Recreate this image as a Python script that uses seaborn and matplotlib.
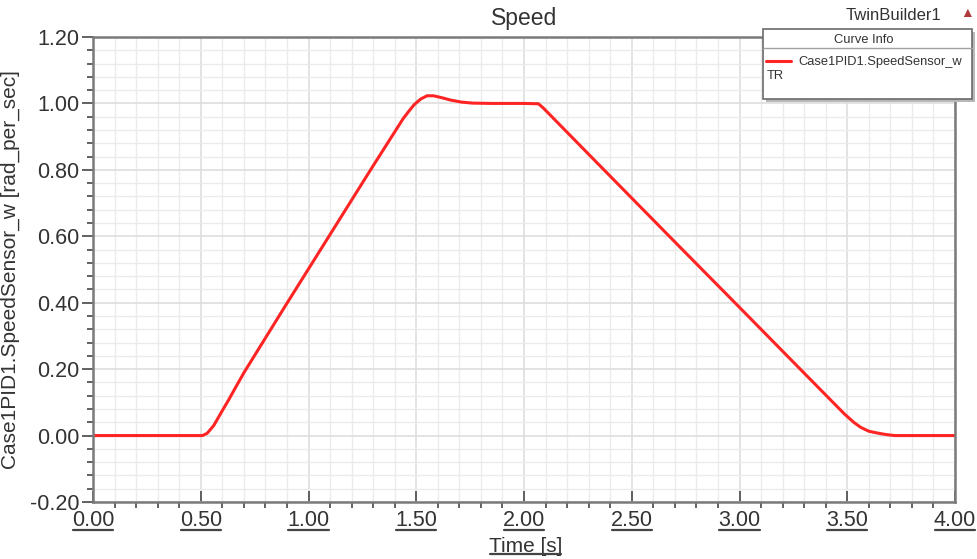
import numpy as np
import pandas as pd
import matplotlib
matplotlib.use("Agg")
import matplotlib.pyplot as plt
import seaborn as sns
from matplotlib.ticker import MultipleLocator, FormatStrFormatter
from matplotlib.lines import Line2D
from matplotlib.patches import Rectangle
from matplotlib.transforms import IdentityTransform

time_s = [0.0, 0.5, 0.508, 0.53, 0.56, 0.6, 0.63, 0.66, 0.701, 0.894, 1.092, 1.288,
          1.44, 1.465, 1.49, 1.52, 1.55, 1.58, 1.62, 1.66, 1.71, 1.76, 1.85,
          2.0, 2.067, 2.09, 2.3, 2.5, 2.7, 3.0, 3.2, 3.332, 3.487, 3.53, 3.562,
          3.6, 3.641, 3.68, 3.72, 4.0]
speed = [0.0, 0.0, 0.0, 0.007, 0.03, 0.075, 0.108, 0.143, 0.19, 0.392, 0.597, 0.8,
         0.955, 0.976, 0.996, 1.013, 1.023, 1.023, 1.017, 1.01, 1.004, 1.001,
         1.0, 1.0, 0.999, 0.986, 0.847, 0.715, 0.583, 0.386, 0.254, 0.167,
         0.065, 0.04, 0.025, 0.013, 0.0075, 0.003, 0.0, 0.0]

series_label = "Case1PID1.SpeedSensor_w"
legend_title = "Curve Info"
legend_wrap = "TR"
x_label = "Time [s]"
y_label = "Case1PID1.SpeedSensor_w [rad_per_sec]"
title = "Speed"
design_name = "TwinBuilder1"

df = pd.DataFrame({x_label: time_s, "speed": speed})

sns.set_theme(style="white")
plt.rcParams['font.family'] = ['Liberation Sans', 'DejaVu Sans']
txt = '#333333'

W, H = 977, 559
fig = plt.figure(figsize=(W / 100, H / 100), dpi=100)
ax = fig.add_axes([93 / W, 1 - 502 / H, (955 - 93) / W, (502 - 37) / H])

sns.lineplot(data=df, x=x_label, y="speed", ax=ax, color="#ff2424",
             linewidth=2.2, label=series_label)
handles, labels = ax.get_legend_handles_labels()
if ax.get_legend() is not None:
    ax.get_legend().remove()

ax.set_xlim(0, 4.0)
ax.set_ylim(-0.2, 1.2)
ax.xaxis.set_major_locator(MultipleLocator(0.5))
ax.xaxis.set_minor_locator(MultipleLocator(0.1))
ax.yaxis.set_major_locator(MultipleLocator(0.2))
ax.yaxis.set_minor_locator(MultipleLocator(0.04))
ax.xaxis.set_major_formatter(FormatStrFormatter('%.2f'))
ax.yaxis.set_major_formatter(FormatStrFormatter('%.2f'))

ax.grid(which='minor', color='#ebebeb', linewidth=1.0)
ax.grid(which='major', color='#dedede', linewidth=1.2)
ax.set_axisbelow(True)

for s in ['left', 'bottom', 'top', 'right']:
    ax.spines[s].set_visible(True)
    ax.spines[s].set_color('#7a7a7a')
    ax.spines[s].set_linewidth(1.8)

ax.tick_params(axis='y', which='major', direction='out', length=8, width=1.3,
               color='#555555', labelsize=15.5, labelcolor=txt, pad=2, left=True)
ax.tick_params(axis='y', which='minor', direction='out', length=4, width=1.3,
               color='#555555', left=True)
ax.tick_params(axis='x', which='major', direction='in', length=8, width=1.3,
               color='#555555', labelsize=15.5, labelcolor=txt, pad=6, bottom=True)
ax.tick_params(axis='x', which='minor', direction='out', length=4, width=1.3,
               color='#555555', bottom=True)

ax.set_xlabel(x_label, fontsize=15, color=txt)
ax.xaxis.set_label_coords(0.502, -0.075)
ax.set_ylabel(y_label, fontsize=15, color=txt, labelpad=7)
ax.set_title(title, fontsize=16.5, color=txt, pad=9)

# "Curve Info" box
box_x0, box_y0, box_x1, box_y1 = 763, 29, 972, 99
fig.add_artist(Rectangle((box_x0 + 3, H - box_y1 - 3), box_x1 - box_x0, box_y1 - box_y0,
                         transform=IdentityTransform(), facecolor='#b8b8b8',
                         edgecolor='none', zorder=15))
fig.add_artist(Rectangle((box_x0, H - box_y1), box_x1 - box_x0, box_y1 - box_y0,
                         transform=IdentityTransform(), facecolor='white',
                         edgecolor='#6a6a6a', linewidth=1.2, zorder=16))
fig.add_artist(Line2D([box_x0, box_x1], [H - 48, H - 48],
                      transform=IdentityTransform(), color='#a0a0a0',
                      linewidth=1.0, zorder=17))

leg = fig.legend(handles, labels, title=legend_title, loc='upper left',
                 bbox_to_anchor=(766 / W, 1 - 34 / H), bbox_transform=fig.transFigure,
                 borderaxespad=0, frameon=False, fontsize=9.3, title_fontsize=9.3,
                 handlelength=1.9, borderpad=0.0, labelspacing=0.8,
                 handletextpad=0.6)
leg.set_zorder(18)
for t in leg.get_texts():
    t.set_color(txt)
leg.get_title().set_color(txt)
for ln in leg.get_lines():
    ln.set_linewidth(2.2)

fig.text(767 / W, 1 - 76 / H, legend_wrap, fontsize=9.3, color=txt, ha='left',
         va='center', zorder=19)

fig.text(894 / W, 1 - 15 / H, design_name, fontsize=12, color=txt,
         ha='center', va='center')
fig.text(967 / W, 1 - 13 / H, "\u25B2", fontsize=10, color='#b03a3a', ha='center',
         va='center')

# underline x tick labels and x label (Ansys style)
fig.canvas.draw()
renderer = fig.canvas.get_renderer()
x_lo, x_hi = ax.get_xlim()
to_under = [lab for tick_val, lab in zip(ax.get_xticks(), ax.get_xticklabels())
            if x_lo - 1e-9 <= tick_val <= x_hi + 1e-9 and lab.get_text()]
to_under.append(ax.xaxis.label)
for lab in to_under:
    bb = lab.get_window_extent(renderer)
    yline = bb.y0 + 1.5
    fig.add_artist(Line2D([bb.x0 + 1, bb.x1 - 1], [yline, yline],
                          transform=IdentityTransform(), color='#444444',
                          linewidth=1.6))

fig.savefig("out.png", dpi=100)
